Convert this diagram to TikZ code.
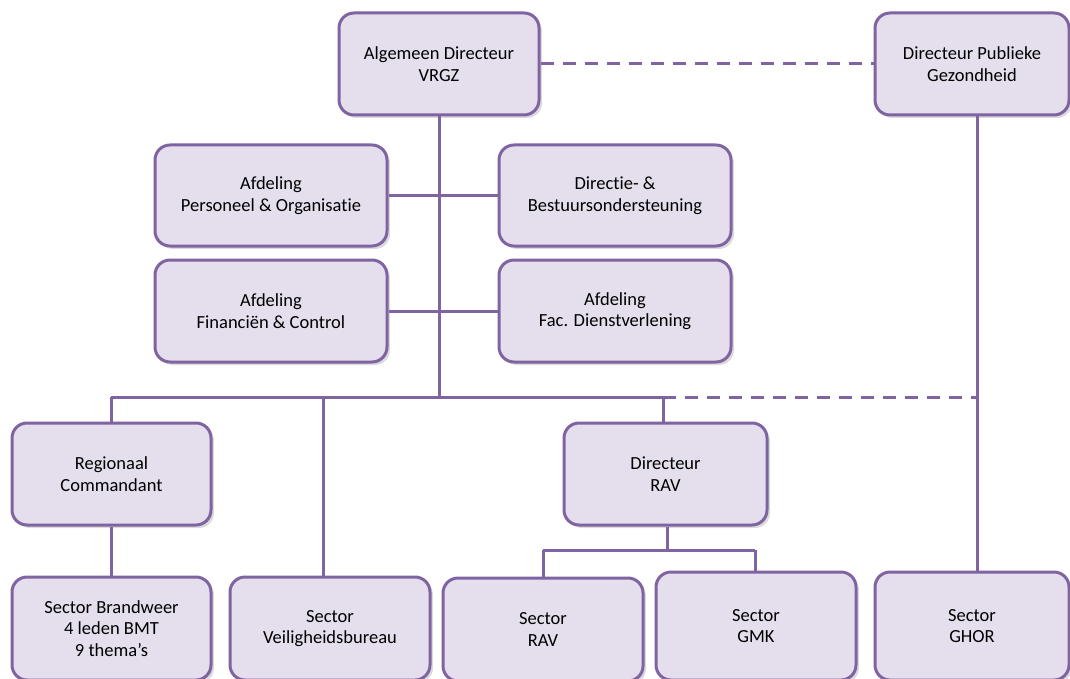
\documentclass[tikz,border=0pt]{standalone}
\usepackage{fontspec}
\setmainfont{Carlito}[Ligatures={NoCommon,NoRare,NoContextual}]
\usetikzlibrary{shadows}
\definecolor{boxfill}{HTML}{E5DEEC}
\definecolor{boxline}{HTML}{8064A2}
\tikzset{
  box/.style={draw=boxline, fill=boxfill, line width=3pt, rounded corners=15pt,
    align=center, inner sep=0pt, font=\fontsize{18.5}{21.5}\selectfont,
    drop shadow={shadow xshift=3pt, shadow yshift=-3pt, fill=black!40, opacity=0.35}},
  conn/.style={draw=boxline, line width=3pt},
  dconn/.style={conn, dash pattern=on 13pt off 9pt},
  cshadow/.style={line width=3pt, draw=black!15},
}
\begin{document}
\begin{tikzpicture}[x=1pt,y=-1pt]
\useasboundingbox (0,0) rectangle (1070,679);
% junction coordinates
\coordinate (j0) at (439,397);
\coordinate (jl) at (111,397);
\coordinate (jv) at (323,397);
\coordinate (jr) at (663,397);
\coordinate (jg) at (977,397);
\coordinate (rj) at (667,550);
\coordinate (rl) at (543,550);
\coordinate (rr) at (755,550);
% boxes
\node[box, minimum width=200pt, minimum height=102pt] (ad) at (439,64) {Algemeen Directeur\\VRGZ};
\node[box, minimum width=194pt, minimum height=102pt] (dpg) at (972,64) {Directeur Publieke\\Gezondheid};
\node[box, minimum width=232pt, minimum height=101pt] (po) at (271,195.5) {Afdeling\\Personeel \& Organisatie};
\node[box, minimum width=232pt, minimum height=101pt] (dbo) at (615,195.5) {Directie- \&\\Bestuursondersteuning};
\node[box, minimum width=232pt, minimum height=102pt] (fc) at (271,311) {Afdeling\\Financiën \& Control};
\node[box, minimum width=232pt, minimum height=102pt] (fd) at (615,311) {Afdeling\\Fac. Dienstverlening};
\node[box, minimum width=199pt, minimum height=102pt] (rc) at (111.5,474) {Regionaal\\Commandant};
\node[box, minimum width=203pt, minimum height=102pt] (drav) at (665.5,474) {Directeur\\RAV};
\node[box, minimum width=199pt, minimum height=103pt] (sb) at (111.5,628.5) {Sector Brandweer\\4 leden BMT\\9 thema’s};
\node[box, minimum width=200pt, minimum height=103pt] (sv) at (330,628.5) {Sector\\Veiligheidsbureau};
\node[box, minimum width=200pt, minimum height=103pt] (sr) at (543,629.5) {Sector\\RAV};
\node[box, minimum width=200pt, minimum height=108pt] (sg) at (756,626) {Sector\\GMK};
\node[box, minimum width=194pt, minimum height=108pt] (sh) at (972,626) {Sector\\GHOR};
% connector shadows
\begin{scope}[shift={(3,3)}]
\draw[cshadow] (ad.south) -- (j0);
\draw[cshadow] (jl) -- (jr);
\draw[cshadow] (jv) -- (jv |- sv.north);
\draw[cshadow] (dpg.south -| jg) -- (jg |- sh.north);
\draw[cshadow] (rl) -- (rr);
\end{scope}
% connectors
\draw[dconn] (ad.east) -- (dpg.west);
\draw[conn] (ad.south) -- (j0);
\draw[conn] (po.east) -- (dbo.west);
\draw[conn] (fc.east) -- (fd.west);
\draw[conn] (jl) -- (jr);
\draw[dconn] (jr) -- (jg);
\draw[conn] (jl) -- (jl |- rc.north);
\draw[conn] (jv) -- (jv |- sv.north);
\draw[conn] (jr) -- (jr |- drav.north);
\draw[conn] (dpg.south -| jg) -- (jg |- sh.north);
\draw[conn] (rc.south -| jl) -- (jl |- sb.north);
\draw[conn] (drav.south -| rj) -- (rj);
\draw[conn] (rl) -- (rr);
\draw[conn] (rl) -- (rl |- sr.north);
\draw[conn] (rr) -- (rr |- sg.north);
\end{tikzpicture}
\end{document}
